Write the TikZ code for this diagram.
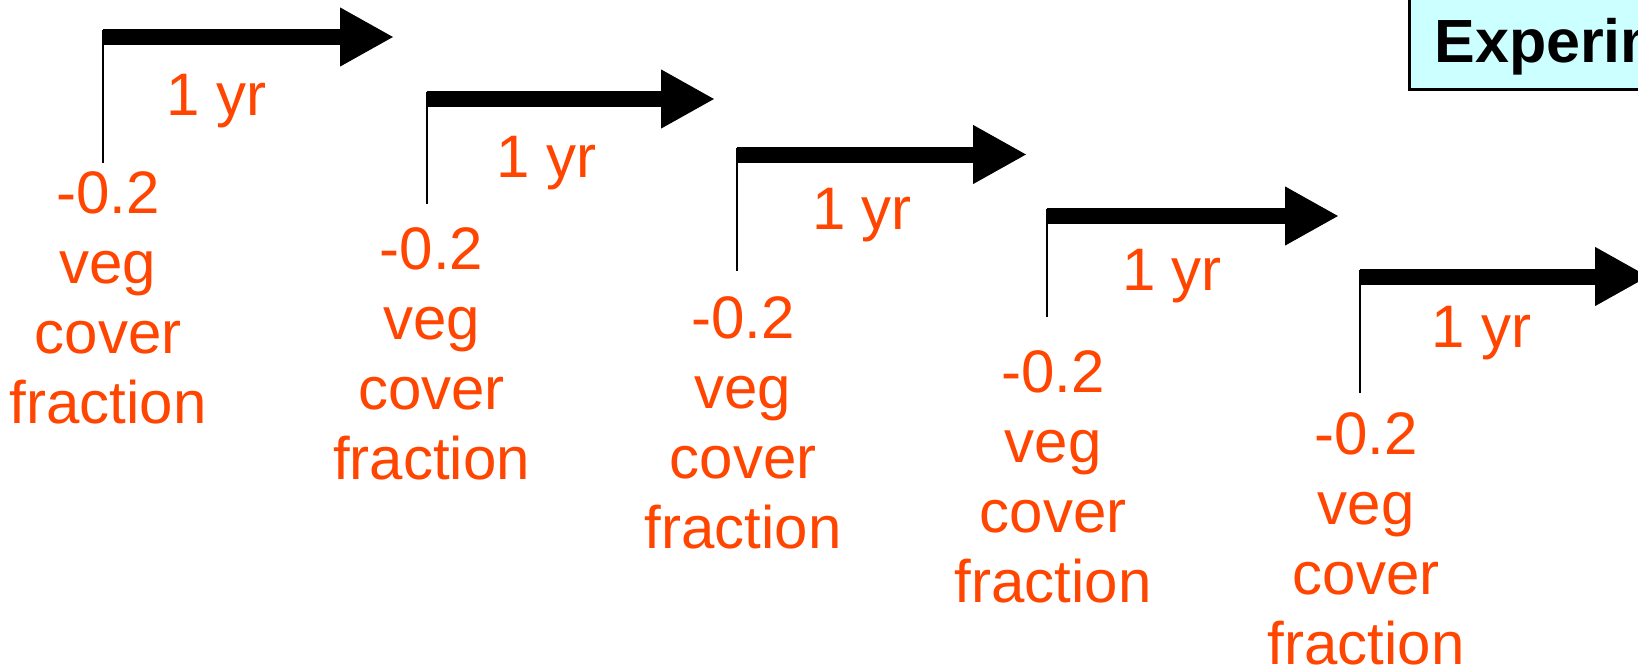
\documentclass[tikz,border=0pt]{standalone}
\usepackage{fontspec}
\setmainfont{Liberation Sans}
\usetikzlibrary{arrows.meta}
\definecolor{vegred}{RGB}{255,69,0}
\definecolor{boxcyan}{RGB}{204,255,255}
\tikzset{
  timebar/.style={line width=8pt, -{Triangle[length=27pt,width=27.5pt]}},
  tick/.style={line width=1pt},
  yrlabel/.style={text=vegred, inner sep=0pt, anchor=base, font=\fontsize{30}{35}\selectfont},
  veglabel/.style={text=vegred, inner sep=0pt, anchor=base, align=center, font=\fontsize{30}{35}\selectfont},
  exptext/.style={inner sep=0pt, anchor=base west, font=\fontsize{30.5}{36}\selectfont\bfseries},
  expbox/.style={draw=black, line width=1.5pt, fill=boxcyan}
}
\begin{document}
\begin{tikzpicture}[x=0.5pt,y=-0.5pt]
\useasboundingbox (0,0) rectangle (1638,669);
\clip (0,0) rectangle (1638,669);
\fill[white] (0,0) rectangle (1638,669);
% experiment box
\draw[expbox] (1409,-20) rectangle (1760,89);
\node[exptext] (exp) at (1434,62) {Experim};
% groups: xv, yc, tip, vbot, yr centre, yr base, text centre, last-line base
\foreach \i/\xv/\yc/\tip/\vb/\yx/\yb/\tx/\tb in {
  1/103/37/394/163/216.5/115/108/423,
  2/427/99/715/204/547/177/431.5/479,
  3/737/154.5/1027/271/862/229/743/548,
  4/1047/216/1339/317/1172/290/1053/602,
  5/1360/276.5/1649/393/1481.5/347/1366/664}{
  \coordinate (s\i) at (\xv,\yc);
  \coordinate (t\i) at (\tip,\yc);
  \coordinate (u\i) at (\xv,\yc-7);
  \coordinate (b\i) at (\xv,\vb);
  \draw[tick] (u\i) -- (b\i);
  \draw[timebar] (s\i) -- (t\i);
  \node[yrlabel] (yr\i) at (\yx,\yb) {1 yr};
  \node[veglabel] (veg\i) at (\tx,\tb) {-0.2\\veg\\cover\\fraction};
}
\end{tikzpicture}
\end{document}
